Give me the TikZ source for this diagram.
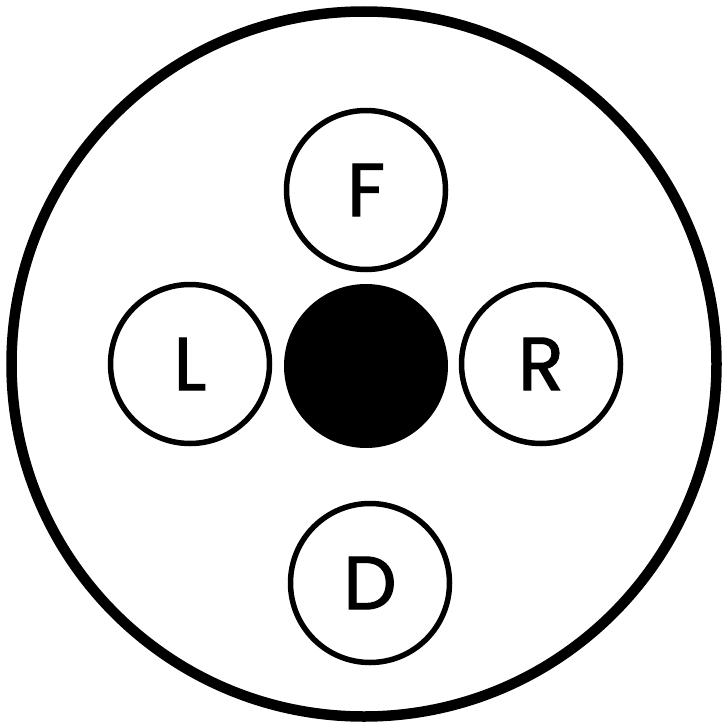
\documentclass[tikz,border=0pt]{standalone}
\usepackage{fontspec}
\newfontfamily\lab{Poppins}[FakeBold=1.6]
\begin{document}
\begin{tikzpicture}[x=1pt,y=-1pt,
  ring/.style={circle,draw,line width=5.5pt,minimum size=159pt,inner sep=0pt,font=\lab\fontsize{75}{75}\selectfont},
  hub/.style={circle,fill=black,minimum size=164pt,inner sep=0pt}]
\useasboundingbox (0,0) rectangle (727,728);
\node[circle,draw,line width=10.5pt,minimum size=705pt,inner sep=0pt] (outer) at (364,364) {};
\node[hub] (c) at (366,366) {};
\node[ring] (f) at (366,190) {F};
\node[ring] (l) at (190,364) {L};
\node[ring] (r) at (541,364) {R};
\node[ring] (d) at (370,583) {D};
\end{tikzpicture}
\end{document}
